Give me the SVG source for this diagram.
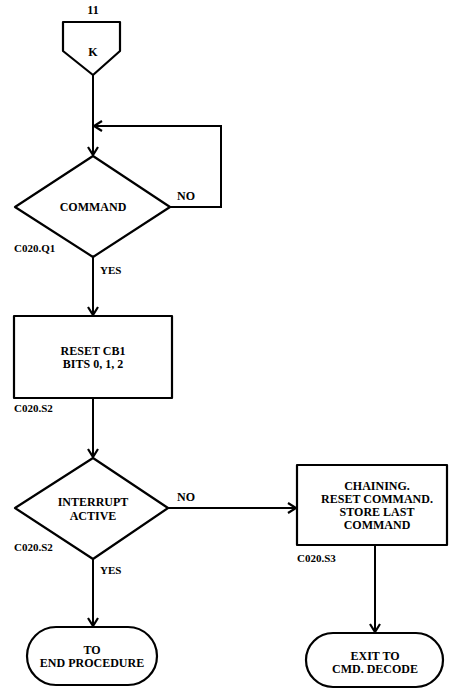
<svg xmlns="http://www.w3.org/2000/svg" width="450" height="690" viewBox="0 0 450 690">
<defs>
<marker id="arr" markerWidth="12" markerHeight="12" refX="10" refY="6" orient="auto" markerUnits="userSpaceOnUse">
<path d="M2,1 L10,6 L2,11" fill="none" stroke="#000" stroke-width="2.2"/>
</marker>
<style>
.s{fill:#fff;stroke:#000;stroke-width:2.2;stroke-linejoin:round}
.c{fill:none;stroke:#000;stroke-width:2}
text{font-family:"Liberation Serif","Times New Roman",serif;font-weight:bold;font-size:12px;fill:#000}
.m{text-anchor:middle}
.sm{font-size:11px}
</style>
</defs>
<rect width="450" height="690" fill="#fff"/>
<g id="connectors">
<path class="c" d="M93,75 V155" marker-end="url(#arr)"/>
<path class="c" d="M170,207 H221 V126 H94" marker-end="url(#arr)"/>
<path class="c" d="M93,257 V315" marker-end="url(#arr)"/>
<path class="c" d="M93,398 V457" marker-end="url(#arr)"/>
<path class="c" d="M168,508 H296" marker-end="url(#arr)"/>
<path class="c" d="M93,559 V626" marker-end="url(#arr)"/>
<path class="c" d="M375,545 V632" marker-end="url(#arr)"/>
<text x="177" y="200">NO</text>
<text x="100" y="274" class="sm">YES</text>
<text x="177" y="501">NO</text>
<text x="100" y="574" class="sm">YES</text>
</g>
<g id="K">
<path class="s" d="M63,22 H120 V51 L93,75 L63,51 Z"/>
<text x="93" y="14" class="m">11</text>
<text x="93" y="56" class="m">K</text>
</g>
<g id="command">
<path class="s" d="M93,156 L170,207 L93,257 L15,207 Z"/>
<text x="93" y="211" class="m">COMMAND</text>
<text x="14" y="252" class="sm">C020.Q1</text>
</g>
<g id="reset">
<rect class="s" x="14" y="316" width="158" height="82"/>
<text x="93" y="355" class="m">RESET CB1</text>
<text x="93" y="368" class="m">BITS 0, 1, 2</text>
<text x="14" y="412" class="sm">C020.S2</text>
</g>
<g id="interrupt">
<path class="s" d="M93,458 L168,508 L93,559 L15,508 Z"/>
<text x="93" y="506" class="m">INTERRUPT</text>
<text x="93" y="520" class="m">ACTIVE</text>
<text x="14" y="551" class="sm">C020.S2</text>
</g>
<g id="chaining">
<rect class="s" x="297" y="465" width="150" height="80"/>
<text x="377" y="490" class="m">CHAINING.</text>
<text x="377" y="503" class="m">RESET COMMAND.</text>
<text x="377" y="516" class="m">STORE LAST</text>
<text x="377" y="529" class="m">COMMAND</text>
<text x="297" y="562" class="sm">C020.S3</text>
</g>
<g id="endproc">
<rect class="s" x="27" y="627" width="130" height="58" rx="29" ry="29"/>
<text x="92" y="654" class="m">TO</text>
<text x="92" y="667" class="m">END PROCEDURE</text>
</g>
<g id="exit">
<rect class="s" x="306" y="633" width="137" height="54" rx="27" ry="27"/>
<text x="375" y="660" class="m">EXIT TO</text>
<text x="375" y="673" class="m">CMD. DECODE</text>
</g>
</svg>
